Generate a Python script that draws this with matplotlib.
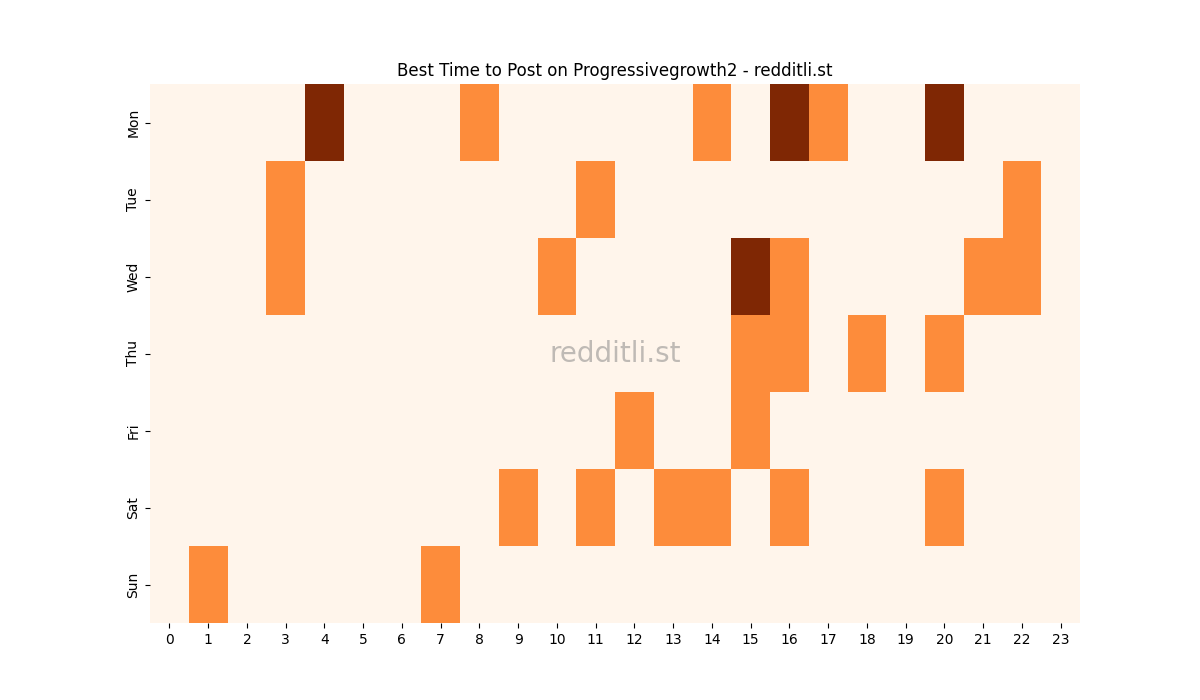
import numpy as np
import matplotlib
matplotlib.use("Agg")
import matplotlib.pyplot as plt
import seaborn as sns

days = ["Mon", "Tue", "Wed", "Thu", "Fri", "Sat", "Sun"]
hours = list(range(24))

# hour -> level (1 = good, 2 = best)
mon = {4: 2, 8: 1, 14: 1, 16: 2, 17: 1, 20: 2}
tue = {3: 1, 11: 1, 22: 1}
wed = {3: 1, 10: 1, 15: 2, 16: 1, 21: 1, 22: 1}
thu = {15: 1, 16: 1, 18: 1, 20: 1}
fri = {12: 1, 15: 1}
sat = {9: 1, 11: 1, 13: 1, 14: 1, 16: 1, 20: 1}
sun = {1: 1, 7: 1}

grid = np.zeros((len(days), len(hours)))
for i, row in enumerate([mon, tue, wed, thu, fri, sat, sun]):
    for h, v in row.items():
        grid[i, h] = v

fig, ax = plt.subplots(figsize=(12, 7), dpi=100)
sns.heatmap(grid, cmap="Oranges", cbar=False, ax=ax,
            xticklabels=hours, yticklabels=days)
ax.set_title("Best Time to Post on Progressivegrowth2 - redditli.st")
ax.tick_params(axis="x", rotation=0)
ax.tick_params(axis="y", rotation=90)
ax.text(0.5, 0.5, "redditli.st", transform=ax.transAxes, fontsize=20,
        color="grey", alpha=0.5, ha="center", va="center")

plt.savefig("out.png")
